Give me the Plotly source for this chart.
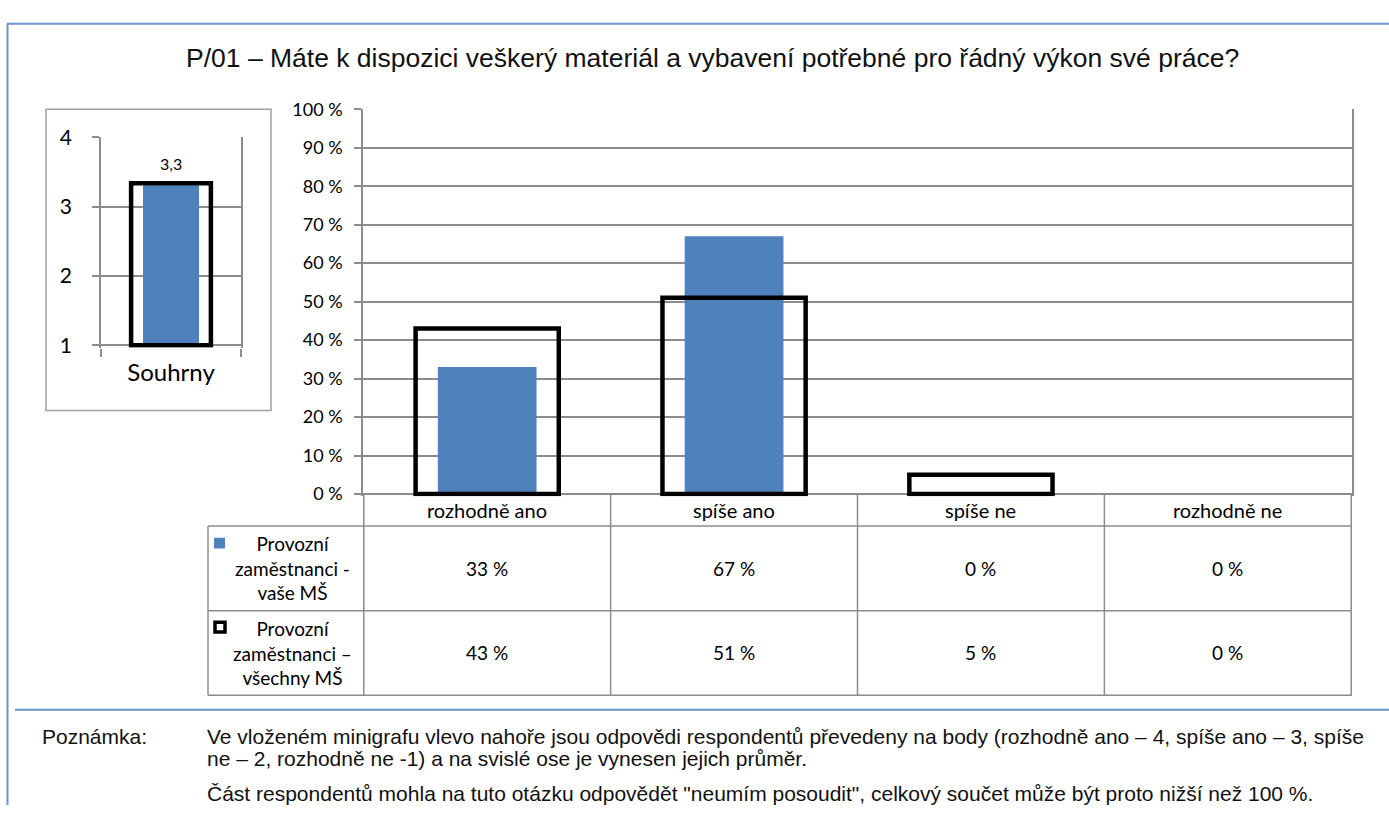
import plotly.graph_objects as go

# data
categories = ["rozhodně ano", "spíše ano", "spíše ne", "rozhodně ne"]
vase_ms = [33, 67, 0, 0]
vsechny_ms = [43, 51, 5, 0]
row_names = ["Provozní<br>zaměstnanci -<br>vaše MŠ", "Provozní<br>zaměstnanci –<br>všechny MŠ"]

mini_category = ["Souhrny"]
mini_vase = [3.31]
mini_vsechny = [3.34]

y_ticks = [0, 10, 20, 30, 40, 50, 60, 70, 80, 90, 100]
y_tick_labels = ["0 %", "10 %", "20 %", "30 %", "40 %", "50 %", "60 %", "70 %", "80 %", "90 %", "100 %"]
mini_ticks = [1, 2, 3, 4]

title = "P/01 – Máte k dispozici veškerý materiál a vybavení potřebné pro řádný výkon své práce?"
note_label = "Poznámka:"
note_lines = [
    "Ve vloženém minigrafu vlevo nahoře jsou odpovědi respondentů převedeny na body (rozhodně ano – 4, spíše ano – 3, spíše",
    "ne – 2, rozhodně ne -1) a na svislé ose je vynesen jejich průměr.",
    "Část respondentů mohla na tuto otázku odpovědět \"neumím posoudit\", celkový součet může být proto nižší než 100 %.",
]

W, H = 1389, 814
BLUE = "#4f81bd"
GRID = "#8c8c8c"
FRAME = "#6a95cc"
CAL = "Lato"
ARIAL = "Liberation Sans, Arial"


def px(x):
    return x / W


def py(y):
    return 1 - y / H


def no_zero(vals):
    # Excel draws nothing for a zero bar
    return [v if v else None for v in vals]


fig = go.Figure()

# main chart
fig.add_trace(go.Bar(x=categories, y=no_zero(vase_ms), width=0.4, marker_color=BLUE,
                     marker_line_width=0, xaxis="x", yaxis="y"))
fig.add_trace(go.Bar(x=categories, y=no_zero(vsechny_ms), width=0.58,
                     marker=dict(color="rgba(0,0,0,0)", line=dict(color="black", width=4.5)),
                     xaxis="x", yaxis="y"))

# mini chart (points 1-4)
fig.add_trace(go.Bar(x=mini_category, y=[v - 1 for v in mini_vase], base=1, width=0.4,
                     marker_color=BLUE, marker_line_width=0, xaxis="x2", yaxis="y2"))
fig.add_trace(go.Bar(x=mini_category, y=[v - 1 for v in mini_vsechny], base=1, width=0.57,
                     marker=dict(color="rgba(0,0,0,0)", line=dict(color="black", width=4.5)),
                     xaxis="x2", yaxis="y2"))

x_left, x_right = 363, 1352
y_top, y_zero = 98, 494
row_lines = [527, 614, 701]
table_left = 208
# a little room below zero so the thick outline at 0 is not cut
pad_main = 0.6
pad_mini = 0.035

fig.update_layout(
    width=W, height=H,
    margin=dict(l=0, r=0, t=0, b=0),
    paper_bgcolor="white", plot_bgcolor="white",
    barmode="overlay", showlegend=False,
    xaxis=dict(domain=[px(x_left), px(x_right)], showticklabels=False, ticks="",
               showgrid=False, showline=False, fixedrange=True),
    yaxis=dict(domain=[py(y_zero + pad_main * (y_zero - y_top) / 100), py(y_top)],
               range=[-pad_main, 100],
               tickvals=y_ticks, ticktext=y_tick_labels,
               ticks="outside", ticklen=7, tickcolor=GRID, tickwidth=1.5,
               showgrid=True, gridcolor=GRID, gridwidth=1.5, zeroline=False,
               showline=True, linecolor=GRID, linewidth=1.5, mirror=True,
               ticklabelstandoff=8,
               tickfont=dict(family=CAL, size=18, color="black")),
    xaxis2=dict(domain=[px(101), px(241)], anchor="y2",
                ticks="outside", ticklen=8, tickcolor=GRID, tickwidth=1.5,
                tickson="boundaries", showgrid=True, gridcolor=GRID, gridwidth=1.5,
                showline=False, ticklabelstandoff=8,
                tickfont=dict(family=CAL, size=24, color="black")),
    yaxis2=dict(domain=[py(341 + pad_mini * (341 - 127) / 3), py(127)], anchor="x2",
                range=[1 - pad_mini, 4],
                tickvals=mini_ticks, ticks="outside", ticklen=7, tickcolor=GRID,
                tickwidth=1.5, showgrid=True, gridcolor=GRID, gridwidth=1.5,
                zeroline=False, showline=True, linecolor=GRID, linewidth=1.5,
                mirror=True, ticklabelstandoff=16,
                tickfont=dict(family=CAL, size=21, color="black")),
)

shapes = []
# outer frame
shapes.append(dict(type="line", xref="paper", yref="paper", x0=px(7), x1=1, y0=py(10), y1=py(10),
                   line=dict(color=FRAME, width=2)))
shapes.append(dict(type="line", xref="paper", yref="paper", x0=px(7.5), x1=px(7.5), y0=py(10), y1=0,
                   line=dict(color=FRAME, width=2)))
shapes.append(dict(type="line", xref="paper", yref="paper", x0=px(15), x1=1, y0=py(716), y1=py(716),
                   line=dict(color=FRAME, width=2)))
# mini chart box
shapes.append(dict(type="rect", xref="paper", yref="paper", x0=px(46), x1=px(271), y0=py(98), y1=py(408),
                   line=dict(color="#a0a0a0", width=1.5)))
# data table
for i in range(len(categories) + 1):
    shapes.append(dict(type="line", xref="x", yref="paper", x0=i - 0.5, x1=i - 0.5,
                       y0=py(y_zero), y1=py(row_lines[-1]), line=dict(color=GRID, width=1.5)))
for yl in row_lines:
    shapes.append(dict(type="line", xref="paper", yref="paper", x0=px(table_left), x1=px(x_right),
                       y0=py(yl), y1=py(yl), line=dict(color=GRID, width=1.5)))
shapes.append(dict(type="line", xref="paper", yref="paper", x0=px(table_left), x1=px(table_left),
                   y0=py(row_lines[0]), y1=py(row_lines[-1]), line=dict(color=GRID, width=1.5)))
# legend keys in the table
shapes.append(dict(type="rect", xref="paper", yref="paper", x0=px(214), x1=px(225), y0=py(539), y1=py(550),
                   fillcolor=BLUE, line=dict(width=0)))
shapes.append(dict(type="rect", xref="paper", yref="paper", x0=px(215), x1=px(225), y0=py(626), y1=py(636),
                   fillcolor="white", line=dict(color="black", width=3.5)))
fig.update_layout(shapes=shapes)


def text(t, x, y, xref="paper", yref="paper", size=19, family=CAL, xanchor="center", **kw):
    return dict(text=t, x=x, y=y, xref=xref, yref=yref, xanchor=xanchor,
                yanchor=kw.pop("yanchor", "middle"), showarrow=False,
                font=dict(family=family, size=size, color=kw.pop("color", "black")), **kw)


ann = [text(title, px(712), py(45), size=26.5, family=ARIAL, color="#111111")]
ann.append(text(f"{mini_vase[0]:.1f}".replace(".", ","), mini_category[0], mini_vase[0],
                xref="x2", yref="y2", size=16, yanchor="bottom", yshift=10))
header_y = (y_zero + row_lines[0]) / 2
row_centers = [(row_lines[0] + row_lines[1]) / 2, (row_lines[1] + row_lines[2]) / 2]
for c in categories:
    ann.append(text(c, c, py(header_y), xref="x", size=20))
for r, vals in enumerate([vase_ms, vsechny_ms]):
    ann.append(text(row_names[r], px(292), py(row_centers[r]), size=19, align="center"))
    for c, v in zip(categories, vals):
        ann.append(text(f"{v} %", c, py(row_centers[r]), xref="x", size=19))
ann.append(text(note_label, px(40), py(744), size=21, family=ARIAL, xanchor="left", color="#111111"))
for yy, line in zip([744, 766, 802], note_lines):
    ann.append(text(line, px(205), py(yy), size=21, family=ARIAL, xanchor="left", color="#111111"))
fig.update_layout(annotations=ann)

fig.write_html("out.html", config={"displayModeBar": False},
               post_script="document.body.style.margin='0';")
